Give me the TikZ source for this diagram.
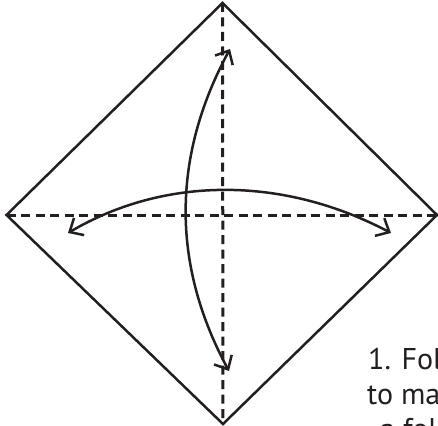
\documentclass[tikz,border=0pt]{standalone}
\usepackage{fontspec}
\setmainfont{PT Sans}
\usetikzlibrary{arrows.meta}
\definecolor{ink}{RGB}{35,31,32}
\begin{document}
\begin{tikzpicture}[x=1pt,y=-1pt,
  edge/.style={line width=2.5pt, draw=ink, line join=miter},
  crease/.style={line width=3pt, draw=ink, dash pattern=on 9pt off 5.5pt},
  foldarrow/.style={line width=2.5pt, draw=ink,
    {Straight Barb[length=11pt,width=20pt]}-{Straight Barb[length=11pt,width=20pt]}},
  caption/.style={anchor=base west, inner sep=0pt, text=ink,
    font=\fontsize{30}{35}\selectfont}]
\useasboundingbox (0,0) rectangle (438,425);
\coordinate (T) at (222.5,3);
\coordinate (R) at (437,215);
\coordinate (B) at (223,424);
\coordinate (L) at (6.5,215);
\draw[edge] (T) -- (R) -- (B) -- (L) -- cycle;
\draw[crease] (T) -- (B);
\draw[crease] (L) -- (R);
\coordinate (va) at (229,371);
\coordinate (vb) at (230,49);
\draw[foldarrow] (va) .. controls (171,264) and (172,156) .. (vb);
\coordinate (ha) at (68,233);
\coordinate (hb) at (391,233);
\draw[foldarrow] (ha) .. controls (165,176) and (283,176) .. (hb);
\node[caption] (c1) at (368,369) {1. Fold};
\node[caption] (c2) at (367,404) {to make};
\node[caption] (c3) at (380,439) {a fold};
\end{tikzpicture}
\end{document}
